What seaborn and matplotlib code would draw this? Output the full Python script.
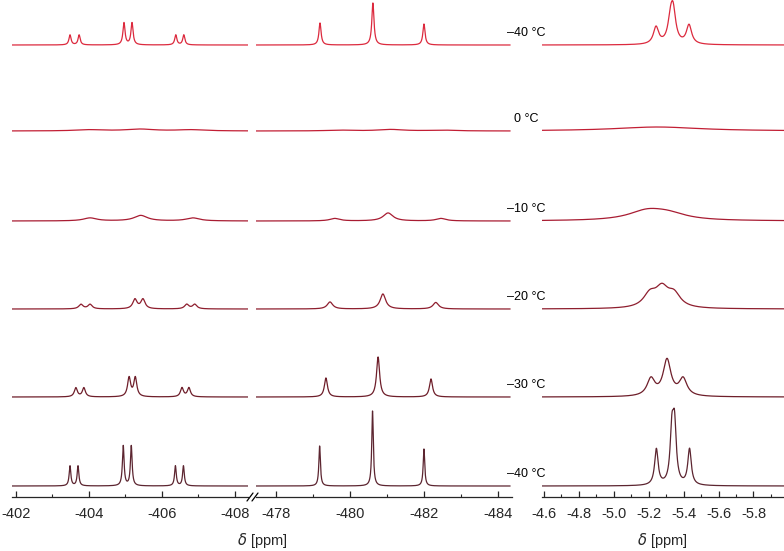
import matplotlib
matplotlib.use("Agg")
import matplotlib.pyplot as plt
from matplotlib.lines import Line2D
from matplotlib.ticker import MultipleLocator, FuncFormatter
import numpy as np
import seaborn as sns

# traces from top to bottom
temps = ["\u201340 \u00b0C", "0 \u00b0C", "\u201310 \u00b0C", "\u201320 \u00b0C", "\u201330 \u00b0C", "\u201340 \u00b0C"]
colors = ["#dc2a3e", "#c21e34", "#a81c32", "#8e1e2e", "#6e1e2a", "#5c2530"]

# peak tables (ppm, intensity, half width in ppm), one list per trace
left_pos = [
    [-403.48, -403.73, -404.96, -405.18, -406.38, -406.60],
    [-404.0, -405.4, -406.8],
    [-404.03, -405.42, -406.85],
    [-403.78, -404.03, -405.26, -405.48, -406.68, -406.90],
    [-403.64, -403.86, -405.10, -405.27, -406.55, -406.74],
    [-403.48, -403.70, -404.94, -405.16, -406.37, -406.59],
]
left_amp = [
    [10, 10, 22, 22, 10, 10],
    [1.2, 1.8, 1.2],
    [3, 5.5, 3],
    [4.5, 4.5, 9.5, 9.5, 4.5, 4.5],
    [9, 9, 19, 19, 9, 9],
    [20, 20, 40, 40, 20, 20],
]
left_wid = [0.035, 0.45, 0.22, 0.07, 0.05, 0.028]

mid_pos = [
    [-479.19, -480.62, -482.00],
    [-479.7, -481.1, -482.5],
    [-479.59, -481.03, -482.46],
    [-479.46, -480.89, -482.32],
    [-479.35, -480.76, -482.19],
    [-479.18, -480.61, -482.00],
]
mid_amp = [
    [22, 42, 21],
    [0.8, 1.5, 0.8],
    [2.5, 8, 2.5],
    [7, 15, 6.5],
    [19, 40, 18],
    [40, 75, 37],
]
mid_wid = [0.035, 0.4, 0.16, 0.09, 0.05, 0.025]

right_pos = [
    [-5.242, -5.325, -5.340, -5.431],
    [-5.25],
    [-5.19, -5.31],
    [-5.207, -5.276, -5.345],
    [-5.213, -5.305, -5.397],
    [-5.244, -5.333, -5.348, -5.434],
]
right_amp = [
    [17, 20, 30, 19],
    [4],
    [9, 6],
    [13, 18, 13],
    [17, 36, 17],
    [36, 50, 55, 36],
]
right_wid = [0.018, 0.3, 0.13, 0.045, 0.027, 0.012]

# baselines of the stacked traces, pixels from the top of the figure
baselines = [45, 131, 221, 309, 397, 486]
AX_TOP = 497  # bottom spine, pixels from top

W, H = 784, 551
sns.set_style("ticks")
plt.rcParams["font.family"] = ["Liberation Sans", "DejaVu Sans"]
fig = plt.figure(figsize=(W / 100, H / 100), dpi=100)


def add_panel(x0, x1, xlim, major, minor, fmt):
    ax = fig.add_axes([x0 / W, (H - AX_TOP) / H, (x1 - x0) / W, AX_TOP / H])
    ax.set_xlim(*xlim)
    ax.set_ylim(0, AX_TOP)
    ax.xaxis.set_major_locator(MultipleLocator(major))
    ax.xaxis.set_minor_locator(MultipleLocator(minor))
    ax.xaxis.set_major_formatter(FuncFormatter(lambda v, p: fmt.format(v)))
    ax.tick_params(axis="x", which="major", direction="in", length=4, width=0.9,
                   labelsize=10.5, pad=7)
    ax.tick_params(axis="x", which="minor", direction="in", length=2.5, width=0.8)
    ax.set_yticks([])
    for s in ["top", "left", "right"]:
        ax.spines[s].set_visible(False)
    ax.spines["bottom"].set_linewidth(0.9)
    ax.patch.set_alpha(0)
    return ax


ax_l = add_panel(12, 248, (-401.89, -408.36), 2, 1, "{:.0f}")
ax_m = add_panel(256, 512, (-477.46, -484.38), 2, 1, "{:.0f}")
ax_r = add_panel(542, 784, (-4.589, -5.975), 0.2, 0.1, "{:.1f}")


def spectrum(ax, pos, amp, wid, base, color, x_from, x_to):
    x = np.linspace(x_from, x_to, 3000)
    y = np.zeros_like(x)
    for p, a in zip(pos, amp):
        y += a / (1 + ((x - p) / wid) ** 2)
    sns.lineplot(x=x, y=(AX_TOP - base) + y, ax=ax, color=color, lw=0.9,
                 estimator=None, sort=False, legend=False)


for i in range(len(temps)):
    b = baselines[i]
    spectrum(ax_l, left_pos[i], left_amp[i], left_wid[i], b, colors[i], -401.85, -408.4)
    spectrum(ax_m, mid_pos[i], mid_amp[i], mid_wid[i], b, colors[i], -477.46, -484.33)
    spectrum(ax_r, right_pos[i], right_amp[i], right_wid[i], b, colors[i], -4.59, -5.975)
    fig.text(526 / W, 1 - (b - 12) / H, temps[i], ha="center", va="center",
             fontsize=9, color="black")

# axis break marks
for dx in (0, 5):
    fig.add_artist(Line2D([(247 + dx) / W, (253 + dx) / W],
                          [(H - AX_TOP - 4) / H, (H - AX_TOP + 4) / H],
                          color="black", lw=0.9))

fig.text(262 / W, 1 - 540 / H, "$\\delta$ [ppm]", ha="center", va="center", fontsize=10.5)
fig.text(662 / W, 1 - 540 / H, "$\\delta$ [ppm]", ha="center", va="center", fontsize=10.5)

fig.savefig("out.png", dpi=100)
